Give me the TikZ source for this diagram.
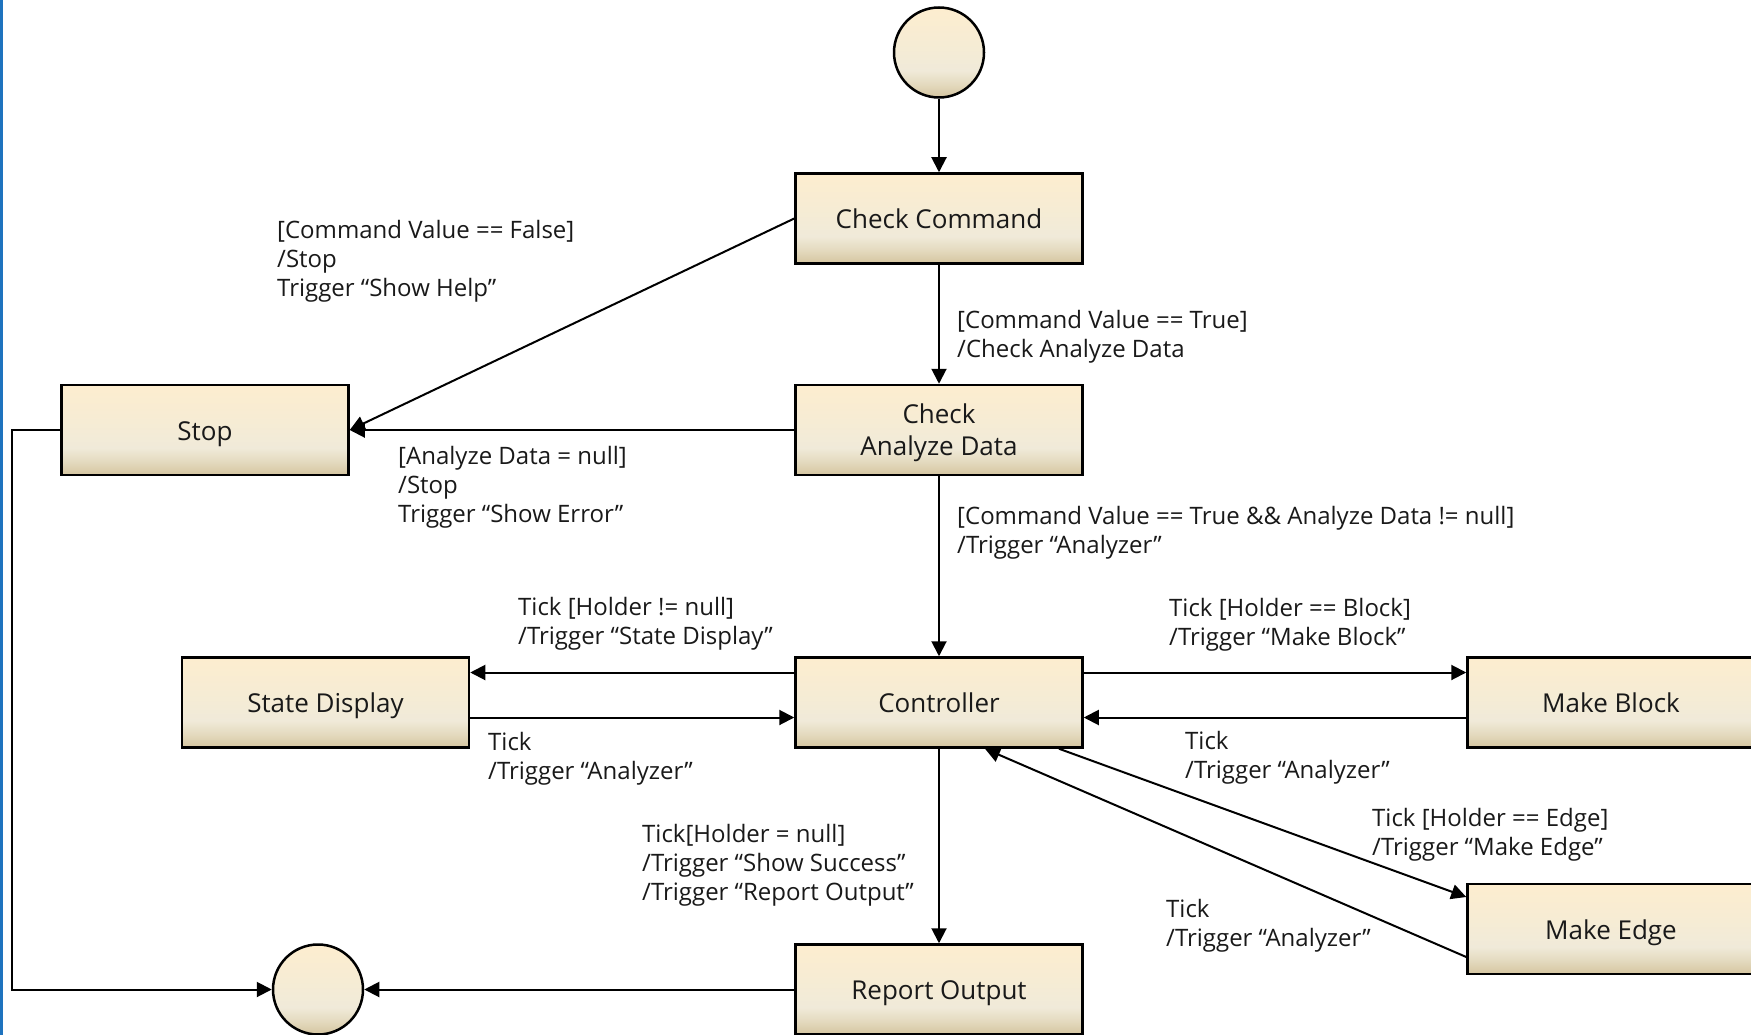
\documentclass[tikz,border=0pt]{standalone}
\usepackage{fontspec}
\setmainfont{Open Sans}
\usetikzlibrary{arrows.meta}
\definecolor{sbot}{HTML}{D5C5A0}
\definecolor{smida}{HTML}{E3D9BD}
\definecolor{smidb}{HTML}{F0EAD9}
\definecolor{smidc}{HTML}{F6ECD4}
\definecolor{ctop}{HTML}{FDEDCF}
\definecolor{leftblue}{RGB}{30,115,190}
\pgfdeclareverticalshading{boxshade}{100bp}{color(0bp)=(sbot); color(25bp)=(sbot); color(32bp)=(smida); color(40bp)=(smidb); color(55bp)=(smidc); color(75bp)=(ctop); color(100bp)=(ctop)}
\tikzset{
  state/.style={draw, line width=2.5pt, shading=boxshade, minimum width=287pt, minimum height=90pt, inner sep=0pt, align=center, font=\fontsize{26}{32}\selectfont, text=black!90},
  single/.style={text height=26pt, text depth=6pt},
  pseudo/.style={circle, draw, line width=2.5pt, shading=boxshade, minimum size=90pt, inner sep=0pt},
  conn/.style={line width=2pt, -{Triangle[length=15pt,width=15pt]}},
  lbl/.style={anchor=north west, inner sep=0pt, align=left, font=\fontsize{24}{29}\selectfont, text=black!90},
}
\begin{document}
\begin{tikzpicture}[x=1pt,y=-1pt]
\useasboundingbox (0,0) rectangle (1751,1035);
\fill[leftblue] (0,0) rectangle (2.5,1035);

% nodes
\node[pseudo] (start) at (939,52.5) {};
\node[state,single] (cc) at (939,218.5) {Check Command};
\node[state,text depth=-2pt] (cad) at (939,430) {Check\\Analyze Data};
\node[state,single] (stop) at (205,430) {Stop};
\node[state,single] (sd) at (325.5,702.5) {State Display};
\node[state,single] (ctrl) at (939,702.5) {Controller};
\node[state,single] (mb) at (1611,702.5) {Make Block};
\node[state,single] (me) at (1611,929) {Make Edge};
\node[state,single] (ro) at (939,989.5) {Report Output};
\node[pseudo] (end) at (318,989.5) {};

% connectors
\draw[conn] (start) -- (cc);
\draw[conn] (cc) -- (cad);
\draw[conn] (cc.west) -- (stop.east);
\draw[conn] (cad.west) -- (stop.east);
\draw[conn] (cad) -- (ctrl);
\draw[conn] ([yshift=30pt]ctrl.west) -- ([yshift=30pt]sd.east);
\draw[conn] ([yshift=-15pt]sd.east) -- ([yshift=-15pt]ctrl.west);
\draw[conn] ([yshift=30pt]ctrl.east) -- ([yshift=30pt]mb.west);
\draw[conn] ([yshift=-15pt]mb.west) -- ([yshift=-15pt]ctrl.east);
\draw[conn] ([xshift=120pt]ctrl.south) -- ([yshift=32pt]me.west);
\draw[conn] ([yshift=-28pt]me.west) -- ([xshift=46pt]ctrl.south);
\draw[conn] (ctrl) -- (ro);
\draw[conn] (ro.west) -- (end.east);
\draw[conn] (stop.west) -- ([xshift=-48pt]stop.west) |- (end.west);

% labels
\node[lbl] (l1) at (277,218) {\strut[Command Value == False]\\/Stop\\Trigger “Show Help”};
\node[lbl] (l2) at (957,307.5) {\strut[Command Value == True]\\/Check Analyze Data};
\node[lbl] (l3) at (398,444) {\strut[Analyze Data = null]\\/Stop\\Trigger “Show Error”};
\node[lbl] (l4) at (957,504) {\strut[Command Value == True \&\& Analyze Data != null]\\/Trigger “Analyzer”};
\node[lbl] (l5) at (518,595) {\strut Tick [Holder != null]\\/Trigger “State Display”};
\node[lbl] (l6) at (488,730) {\strut Tick\\/Trigger “Analyzer”};
\node[lbl] (l7) at (1169,596) {\strut Tick [Holder == Block]\\/Trigger “Make Block”};
\node[lbl] (l8) at (1185,729) {\strut Tick\\/Trigger “Analyzer”};
\node[lbl] (l9) at (1372,806) {\strut Tick [Holder == Edge]\\/Trigger “Make Edge”};
\node[lbl] (l10) at (642,822) {\strut Tick[Holder = null]\\/Trigger “Show Success”\\/Trigger “Report Output”};
\node[lbl] (l11) at (1166,897) {\strut Tick\\/Trigger “Analyzer”};
\end{tikzpicture}
\end{document}
